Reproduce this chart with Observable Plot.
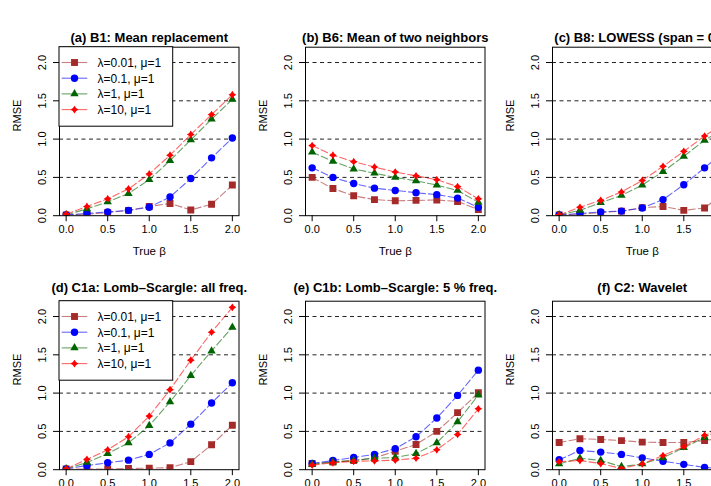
<!DOCTYPE html>
<html><head><meta charset="utf-8">
<script src="https://cdn.jsdelivr.net/npm/d3@7"></script>
<script src="https://cdn.jsdelivr.net/npm/@observablehq/plot@0.6"></script>
<style>
body{margin:0;background:#fff;}
#fig{position:relative;width:711px;height:486px;overflow:hidden;background:#fff;font-family:"Liberation Sans",Arial,sans-serif;}
#fig svg{position:absolute;overflow:visible;}
</style></head><body><div id="fig"></div>
<script>
// ---- data ----
const betas = [0, 0.25, 0.5, 0.75, 1, 1.25, 1.5, 1.75, 2];
const seriesLabels = ["λ=0.01, μ=1", "λ=0.1, μ=1", "λ=1, μ=1", "λ=10, μ=1"];
const xTicks = [0, 0.5, 1, 1.5, 2];
const yTicks = [0, 0.5, 1, 1.5, 2];
const gridLevels = [0.5, 1, 1.5, 2];
const panelTitles = [
  "(a) B1: Mean replacement",
  "(b) B6: Mean of two neighbors",
  "(c) B8: LOWESS (span = 0.1)",
  "(d) C1a: Lomb\u2013Scargle: all freq.",
  "(e) C1b: Lomb\u2013Scargle: 5 % freq.",
  "(f) C2: Wavelet"
];
// each panel: [λ=0.01, λ=0.1, λ=1, λ=10]
const rmseA = [
  [0.01, 0.02, 0.04, 0.07, 0.12, 0.16, 0.075, 0.15, 0.40],
  [0.01, 0.03, 0.05, 0.07, 0.11, 0.245, 0.485, 0.755, 1.015],
  [0.01, 0.09, 0.18, 0.29, 0.47, 0.72, 0.99, 1.26, 1.52],
  [0.02, 0.12, 0.22, 0.35, 0.545, 0.79, 1.06, 1.32, 1.58]
];
const rmseB = [
  [0.50, 0.355, 0.26, 0.21, 0.195, 0.20, 0.205, 0.185, 0.08],
  [0.625, 0.50, 0.42, 0.36, 0.33, 0.30, 0.275, 0.23, 0.11],
  [0.83, 0.71, 0.61, 0.555, 0.50, 0.455, 0.40, 0.33, 0.175],
  [0.915, 0.79, 0.705, 0.635, 0.57, 0.52, 0.47, 0.38, 0.22]
];
const rmseC = [
  [0.01, 0.02, 0.04, 0.06, 0.105, 0.12, 0.07, 0.10, 0.31],
  [0.01, 0.03, 0.05, 0.06, 0.10, 0.21, 0.405, 0.625, 0.85],
  [0.01, 0.07, 0.17, 0.265, 0.40, 0.575, 0.775, 0.985, 1.15],
  [0.01, 0.11, 0.20, 0.31, 0.46, 0.645, 0.84, 1.04, 1.22]
];
const rmseD = [
  [0.01, 0.01, 0.01, 0.015, 0.02, 0.025, 0.105, 0.325, 0.58],
  [0.01, 0.055, 0.09, 0.125, 0.20, 0.35, 0.595, 0.87, 1.135],
  [0.01, 0.095, 0.21, 0.35, 0.575, 0.885, 1.23, 1.55, 1.86],
  [0.01, 0.135, 0.26, 0.43, 0.70, 1.045, 1.43, 1.795, 2.12]
];
const rmseE = [
  [0.08, 0.10, 0.12, 0.155, 0.24, 0.33, 0.50, 0.745, 1.005],
  [0.08, 0.12, 0.16, 0.20, 0.275, 0.43, 0.675, 0.97, 1.30],
  [0.07, 0.10, 0.12, 0.15, 0.16, 0.21, 0.35, 0.625, 0.975],
  [0.06, 0.09, 0.11, 0.115, 0.125, 0.15, 0.26, 0.46, 0.795]
];
const rmseF = [
  [0.355, 0.405, 0.395, 0.38, 0.36, 0.355, 0.355, 0.38, 0.42],
  [0.13, 0.25, 0.23, 0.20, 0.155, 0.11, 0.07, 0.03, 0.01],
  [0.075, 0.15, 0.12, 0.04, 0.075, 0.155, 0.29, 0.42, 0.55],
  [0.105, 0.12, 0.08, 0.015, 0.075, 0.185, 0.30, 0.45, 0.55]
];
const panelValues = [rmseA, rmseB, rmseC, rmseD, rmseE, rmseF];
const legendPanels = [0, 3];

// ---- styles ----
const markerColors = ["#A52A2A", "#0000FF", "#006400", "#FF0000"];
const star4 = {draw(ctx, size) {
  const R = Math.sqrt(size / Math.PI), k = R * 0.4;
  ctx.moveTo(0, -R); ctx.lineTo(k, -k); ctx.lineTo(R, 0); ctx.lineTo(k, k);
  ctx.lineTo(0, R); ctx.lineTo(-k, k); ctx.lineTo(-R, 0); ctx.lineTo(-k, -k); ctx.closePath();
}};
const symbols = ["square", "circle", "triangle", star4];
const d3symbols = [d3.symbolSquare, d3.symbolCircle, d3.symbolTriangle, star4];
const radii = [3.9, 3.7, 3.1, 3.9];

const fig = document.getElementById("fig");
const W = 246, H = 265;
const colX = [0, 246, 492.7];
const rowY = [0, 254];
const fmt = d3.format(".1f");

panelValues.forEach((vals, p) => {
  const col = p % 3, row = Math.floor(p / 3);
  const data = [];
  vals.forEach((arr, s) => arr.forEach((v, i) => data.push({beta: betas[i], rmse: v, s})));
  const mt = 46.7, mb = H - 215.2;
  const marks = [
    Plot.ruleY(gridLevels, {stroke: "#222", strokeWidth: 1, strokeDasharray: "4,3.5"}),
  ];
  for (let s = 0; s < 4; s++) {
    const sd = data.filter(d => d.s === s);
    marks.push(Plot.line(sd, {x: "beta", y: "rmse", stroke: markerColors[s], strokeOpacity: 0.6,
      strokeWidth: 1.1, strokeDasharray: "7,3", clip: true}));
    marks.push(Plot.dot(sd, {x: "beta", y: "rmse", symbol: symbols[s], r: radii[s],
      fill: markerColors[s], stroke: "none", clip: true}));
  }
  marks.push(
    Plot.frame({stroke: "#000", strokeWidth: 1}),
    Plot.axisX(xTicks, {tickSize: 6, tickPadding: 3, tickFormat: fmt, label: null, fontSize: 11}),
    Plot.axisY(yTicks, {tickSize: 6, tickPadding: 8, tickRotate: -90, tickFormat: fmt, label: null, fontSize: 11}),
    Plot.text([panelTitles[p]], {frameAnchor: "top", dy: row === 0 ? -14.4 : -18.5, fontWeight: "bold", fontSize: 13}),
    Plot.text(["True \u03b2"], {frameAnchor: "bottom", dy: 38.8, fontSize: 11.5}),
    Plot.text(["RMSE"], {frameAnchor: "left", dx: -42, rotate: -90, fontSize: 11})
  );
  const chart = Plot.plot({
    width: W, height: H,
    marginLeft: 59, marginRight: 7.5, marginTop: mt, marginBottom: mb,
    x: {domain: [-0.08, 2.08]},
    y: {domain: [0, 2.2]},
    style: {fontFamily: '"Liberation Sans", Arial, sans-serif', background: "transparent", color: "#000"},
    marks
  });
  chart.style.left = colX[col] + "px";
  chart.style.top = rowY[row] + "px";
  fig.appendChild(chart);

  if (legendPanels.includes(p)) {
    const svg = d3.select(chart);
    const g = svg.append("g").attr("transform", `translate(59,${mt})`);
    g.append("rect").attr("x", 0).attr("y", 0).attr("width", 113.7).attr("height", 79.5)
      .attr("fill", "#fff").attr("stroke", "#000").attr("stroke-width", 1);
    seriesLabels.forEach((lab, s) => {
      const y = 15.8 + s * 15.7;
      g.append("line").attr("x1", 2.7).attr("x2", 28.3).attr("y1", y).attr("y2", y)
        .attr("stroke", markerColors[s]).attr("stroke-opacity", 0.6).attr("stroke-width", 1.1);
      g.append("path").attr("transform", `translate(15.5,${y})`)
        .attr("d", d3.symbol(d3symbols[s], Math.PI * radii[s] * radii[s])())
        .attr("fill", markerColors[s]);
      g.append("text").attr("x", 38.5).attr("y", y).attr("dy", "0.36em")
        .attr("text-anchor", "start").style("text-anchor", "start")
        .attr("font-size", 12).attr("fill", "#000").text(lab);
    });
  }
});
</script></body></html>
